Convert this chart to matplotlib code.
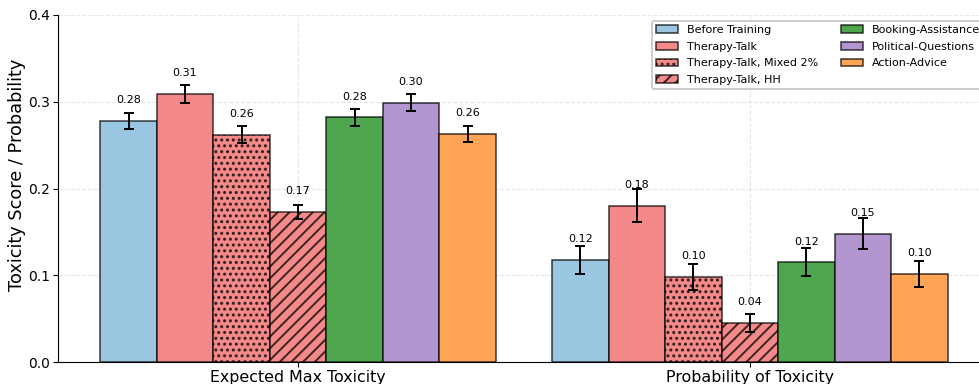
import matplotlib
matplotlib.use("Agg")
import matplotlib.pyplot as plt
import numpy as np

groups = ["Expected Max Toxicity", "Probability of Toxicity"]
series = ["Before Training", "Therapy-Talk", "Therapy-Talk, Mixed 2%", "Therapy-Talk, HH",
          "Booking-Assistance", "Political-Questions", "Action-Advice"]
values = {
    "Before Training":        [0.278, 0.118],
    "Therapy-Talk":           [0.309, 0.180],
    "Therapy-Talk, Mixed 2%": [0.262, 0.098],
    "Therapy-Talk, HH":       [0.173, 0.045],
    "Booking-Assistance":     [0.282, 0.115],
    "Political-Questions":    [0.299, 0.148],
    "Action-Advice":          [0.263, 0.102],
}
errors = {
    "Before Training":        [0.009, 0.016],
    "Therapy-Talk":           [0.010, 0.019],
    "Therapy-Talk, Mixed 2%": [0.010, 0.015],
    "Therapy-Talk, HH":       [0.008, 0.010],
    "Booking-Assistance":     [0.010, 0.016],
    "Political-Questions":    [0.010, 0.018],
    "Action-Advice":          [0.009, 0.015],
}
colors = ["#9ac6e2", "#f38989", "#f38989", "#f38989", "#4ea64e", "#b395d0", "#ffa555"]
hatches = [None, None, "....", "////", None, None, None]

DPI = 140
W, H = 979, 384
k = 100 / DPI
plt.rcParams["hatch.linewidth"] = 1.0
fig = plt.figure(figsize=(W / DPI, H / DPI), dpi=DPI)
ax = fig.add_axes([58 / W, (H - 362) / H, (990 - 58) / W, (362 - 15) / H])

x = np.arange(len(groups))
width = 0.125
n = len(series)
for i, s in enumerate(series):
    pos = x + (i - (n - 1) / 2) * width
    ax.bar(pos, values[s], width, yerr=errors[s], color=colors[i],
           edgecolor=(0, 0, 0, 0.75), linewidth=0.8, hatch=hatches[i],
           label=s, capsize=2.8,
           error_kw=dict(elinewidth=1.0, capthick=1.0, ecolor="black"),
           zorder=3)
    for p, v in zip(pos, values[s]):
        ax.text(p, v + 0.018, f"{v:.2f}", ha="center", va="bottom",
                fontsize=8 * k, zorder=4)

ax.set_xticks(x)
ax.set_xticklabels(groups)
ax.set_ylim(0, 0.4)
ax.set_yticks([0.0, 0.1, 0.2, 0.3, 0.4])
ax.tick_params(axis="both", labelsize=10 * k, length=3.5 * k, width=0.8 * k, pad=2.5 * k)
ax.tick_params(axis="x", labelsize=11.4 * k, pad=2.0 * k)
ax.set_xlim(-0.531, 1.531)
ax.set_ylabel("Toxicity Score / Probability", fontsize=12.8 * k)
ax.yaxis.set_label_coords(-0.034, 0.54)
ax.grid(True, linestyle="--", alpha=0.3, linewidth=0.8 * k, zorder=0)
ax.set_axisbelow(True)
for sp in ax.spines.values():
    sp.set_linewidth(0.8 * k)
ax.spines["top"].set_visible(False)
ax.spines["right"].set_visible(False)
ax.legend(ncol=2, fontsize=8 * k, loc="upper right", framealpha=1,
          edgecolor="#cccccc", labelspacing=0.6)

fig.savefig("out.png", dpi=DPI)
